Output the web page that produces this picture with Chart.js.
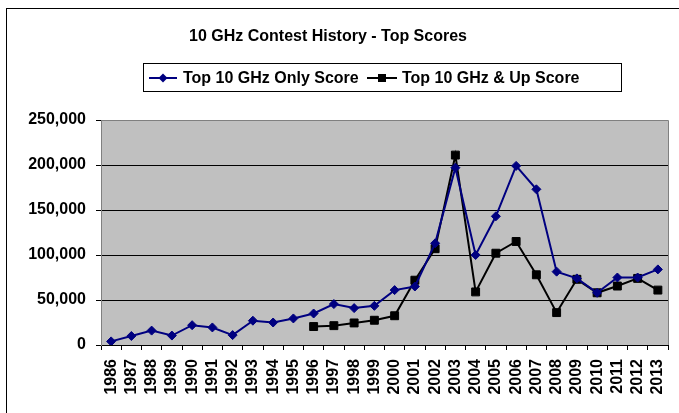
<!DOCTYPE html>
<html>
<head>
<meta charset="utf-8">
<script src="https://cdn.jsdelivr.net/npm/chart.js@4/dist/chart.umd.min.js"></script>
<style>
  html, body { margin: 0; padding: 0; background: #fff; overflow: hidden; }
  #wrap { position: relative; width: 679px; height: 413px; }
</style>
</head>
<body>
<div id="wrap"><canvas id="c" width="679" height="413"></canvas></div>
<script>
const chartTitle = '10 GHz Contest History - Top Scores';
const seriesNames = ['Top 10 GHz Only Score', 'Top 10 GHz & Up Score'];
const years = ['1986','1987','1988','1989','1990','1991','1992','1993','1994','1995','1996','1997','1998','1999',
               '2000','2001','2002','2003','2004','2005','2006','2007','2008','2009','2010','2011','2012','2013'];
const onlyScores = [4000, 10000, 16000, 10500, 22000, 19500, 11000, 27000, 25000, 29500, 35000, 45500, 41000, 43500,
                    61000, 65000, 113000, 197000, 100000, 143000, 199000, 173000, 81500, 74000, 58000, 75000, 75000, 84000];
const upScores = [null, null, null, null, null, null, null, null, null, null, 20500, 21500, 24500, 27500,
                  32500, 72000, 107000, 211000, 59000, 102000, 115000, 78000, 36000, 73000, 58000, 65500, 74000, 61000];
const yTicks = [0, 50000, 100000, 150000, 200000, 250000];

const FONT = '"Liberation Sans", Arial, sans-serif';
const BLUE = '#000080';

const decor = {
  id: 'decor',
  beforeDraw(chart) {
    const {ctx, chartArea: a} = chart;
    ctx.save();
    ctx.fillStyle = '#fff';
    ctx.fillRect(0, 0, chart.width, chart.height);
    ctx.fillStyle = '#C0C0C0';
    ctx.fillRect(a.left, a.top, a.right - a.left, a.bottom - a.top);
    ctx.restore();
  },
  afterDatasetsDraw(chart) {
    const {ctx, chartArea: a} = chart;
    ctx.save();
    ctx.strokeStyle = '#808080';
    ctx.lineWidth = 1;
    ctx.beginPath();
    ctx.moveTo(a.left, a.top + 0.5); ctx.lineTo(a.right + 0.5, a.top + 0.5); ctx.lineTo(a.right + 0.5, a.bottom);
    ctx.stroke();
    ctx.strokeStyle = '#000';
    ctx.strokeRect(6.5, 8.5, 1000, 1000);
    ctx.fillStyle = '#000';
    ctx.font = 'bold 16px ' + FONT;
    ctx.textAlign = 'center';
    ctx.textBaseline = 'middle';
    ctx.fillText(chartTitle, 328, 37);
    ctx.strokeStyle = '#000';
    ctx.strokeRect(143.5, 63.5, 478, 28);
    const ly = 78;
    ctx.textAlign = 'left';
    ctx.strokeStyle = BLUE; ctx.lineWidth = 2;
    ctx.beginPath(); ctx.moveTo(149, ly); ctx.lineTo(177, ly); ctx.stroke();
    ctx.fillStyle = BLUE;
    ctx.beginPath(); ctx.moveTo(163, ly - 4.5); ctx.lineTo(167.5, ly); ctx.lineTo(163, ly + 4.5); ctx.lineTo(158.5, ly); ctx.closePath(); ctx.fill();
    ctx.fillStyle = '#000';
    ctx.fillText(seriesNames[0], 183, ly + 1);
    ctx.strokeStyle = '#000';
    ctx.beginPath(); ctx.moveTo(367, ly); ctx.lineTo(397, ly); ctx.stroke();
    ctx.fillRect(378, ly - 4, 8, 8);
    ctx.fillText(seriesNames[1], 402, ly + 1);
    ctx.restore();
  }
};

new Chart(document.getElementById('c'), {
  type: 'line',
  data: {
    labels: years,
    datasets: [
      {
        label: seriesNames[0],
        data: onlyScores,
        borderColor: BLUE,
        backgroundColor: BLUE,
        borderWidth: 2,
        pointStyle: 'rectRot',
        pointRadius: 4.5,
        pointBorderWidth: 1,
        tension: 0,
        fill: false
      },
      {
        label: seriesNames[1],
        data: upScores,
        borderColor: '#000',
        backgroundColor: '#000',
        borderWidth: 2,
        pointStyle: 'rect',
        pointRadius: 5.6,
        pointBorderWidth: 1,
        tension: 0,
        fill: false,
        spanGaps: false
      }
    ]
  },
  options: {
    responsive: false,
    animation: false,
    events: [],
    layout: { padding: { left: 6, right: 11, top: 120, bottom: 0 } },
    plugins: { legend: { display: false }, title: { display: false }, tooltip: { enabled: false } },
    scales: {
      x: {
        offset: true,
        grid: { offset: true, drawOnChartArea: false, drawTicks: true, tickLength: 5, color: '#000' },
        border: { color: '#000', width: 1 },
        ticks: {
          autoSkip: false, minRotation: 90, maxRotation: 90, padding: 9,
          color: '#000', font: { family: FONT, size: 16, weight: 'bold' }
        },
        afterFit(s) { s.height = 68; s.paddingLeft = 0; s.paddingRight = 0; }
      },
      y: {
        min: 0, max: 250000,
        afterBuildTicks(s) { s.ticks = yTicks.map(v => ({ value: v })); },
        grid: {
          color: ctx => (ctx.tick && ctx.tick.value === 250000) ? '#808080' : '#000',
          tickColor: '#000',
          tickLength: 5, lineWidth: 1
        },
        border: { color: '#808080', width: 1 },
        ticks: {
          padding: 10, color: '#000',
          font: { family: FONT, size: 16, weight: 'bold' },
          callback: v => v.toLocaleString('en-US')
        },
        afterFit(s) { s.width = 95; s.paddingTop = 0; s.paddingBottom = 0; }
      }
    }
  },
  plugins: [decor]
});
</script>
</body>
</html>
